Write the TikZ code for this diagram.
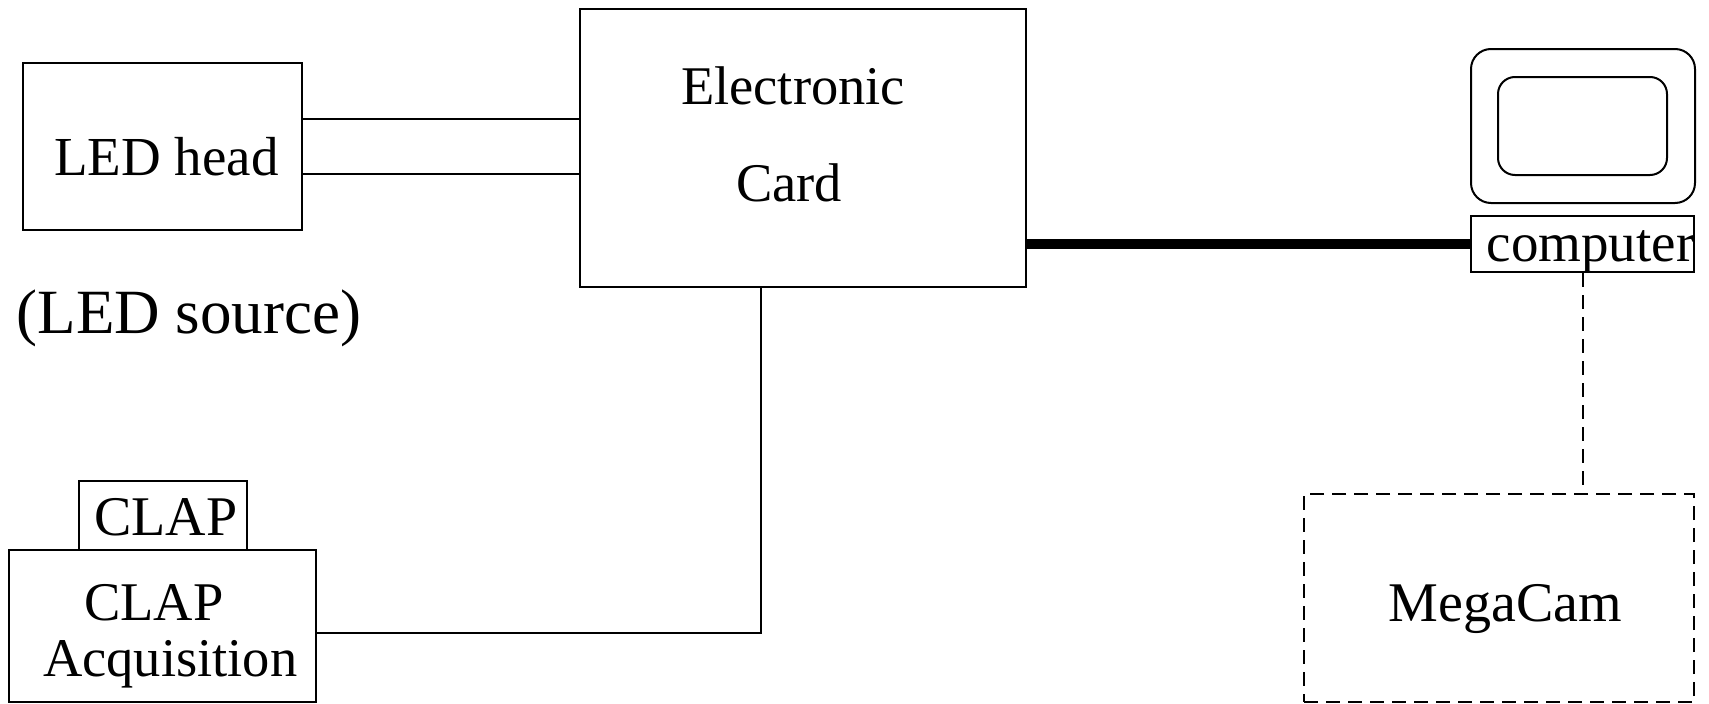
\documentclass[tikz,border=0pt]{standalone}
\usepackage{fontspec}
\setmainfont{Liberation Serif}
\newcommand{\placed}[3]{\hspace*{#1}\raisebox{#2}[\height][\depth]{#3}}
\tikzset{
  box/.style={draw=black,line width=2pt,rectangle,inner sep=0pt,align=center},
  dashbox/.style={box,dash pattern=on 14pt off 8pt},
  txt/.style={font=\fontsize{#1}{#1}\selectfont},
  wire/.style={draw=black,line width=2pt},
  thickwire/.style={draw=black,line width=10pt},
  dashwire/.style={draw=black,line width=2pt,dash pattern=on 14pt off 8pt},
}
\begin{document}
\begin{tikzpicture}[x=1pt,y=-1pt]
\useasboundingbox (0,0) rectangle (1709,704);
% boxes
\node[box,minimum width=279pt,minimum height=167pt,txt=55] (led) at (162.5,146.5) {\placed{8pt}{-10pt}{LED head}};
\node[box,minimum width=446pt,minimum height=278pt,txt=54.5] (card) at (803,148)
  {\placed{-20pt}{16pt}{Electronic}\\[38pt]\placed{-27.6pt}{11pt}{Card}};
\node[txt=63,inner sep=0pt] (src) at (189,318) {(LED source)};
\node[box,minimum width=168pt,minimum height=69pt,txt=56] (clap) at (163,515.5) {\placed{6pt}{-2pt}{CLAP}};
\node[box,minimum width=307pt,minimum height=152pt,txt=54.5,execute at begin node={\baselineskip=56pt}] (acq) at (162.5,626)
  {\placed{-17.6pt}{-10pt}{CLAP}\\\placed{15.4pt}{-10pt}{Acquisition}};
% computer
\node[box,rounded corners=20pt,minimum width=224pt,minimum height=154pt] (mon) at (1583,126) {};
\node[box,rounded corners=17pt,minimum width=169pt,minimum height=98pt] (scr) at (1582.5,126) {};
\node[box,minimum width=223pt,minimum height=56pt,txt=55] (comp) at (1582.5,244) {\makebox[0pt]{\placed{16pt}{-8pt}{computer}}};
\node[dashbox,minimum width=390pt,minimum height=208pt,txt=56] (mega) at (1499,598) {\placed{13pt}{-11pt}{MegaCam}};
% connectors
\draw[wire] ([yshift=27.5pt]led.east) -- ([yshift=27.5pt]led.east -| card.west);
\draw[wire] ([yshift=-27.5pt]led.east) -- ([yshift=-27.5pt]led.east -| card.west);
\draw[thickwire] (card.east |- comp.west) -- (comp.west);
\draw[wire] ([yshift=-7pt]acq.east) -| ([xshift=-42pt]card.south);
\draw[dashwire] (comp.south) -- (comp.south |- mega.north);
\end{tikzpicture}
\end{document}
